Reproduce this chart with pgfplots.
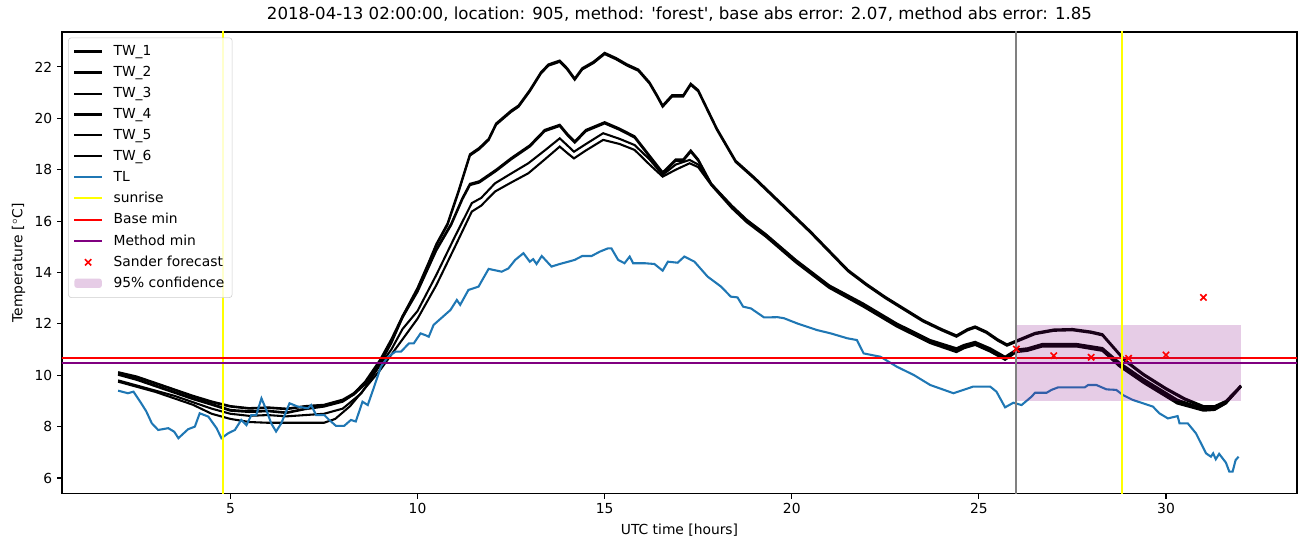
\documentclass[border=0pt]{standalone}
\usepackage{pgfplots}
\pgfplotsset{compat=1.18}
\usepackage{fontspec}
\setmainfont{DejaVu Sans}
\definecolor{tlblue}{HTML}{1F77B4}
\definecolor{mplpurple}{HTML}{800080}
\definecolor{mplgray}{HTML}{808080}
\definecolor{mplyellow}{HTML}{FFFF00}
\definecolor{confpatch}{RGB}{230,204,230}
\begin{document}
\begin{tikzpicture}
\begin{axis}[
  name=ax,
  scale only axis,
  width=889.2bp, height=332.6bp,
  xmin=0.5, xmax=33.5, ymin=5.38, ymax=23.36,
  xtick={5,10,15,20,25,30}, ytick={6,8,10,12,14,16,18,20,22},
  tick align=outside, xtick pos=bottom, ytick pos=left,
  major tick length=3.5pt,
  tick style={line width=0.8pt, black},
  axis line style={line width=0.8pt},
  /pgf/number format/assume math mode=true,
  ticklabel style={font=\fontsize{10}{12}\selectfont},
  label style={font=\fontsize{10}{12}\selectfont},
  title style={font=\fontsize{12}{14}\selectfont, yshift=-2pt},
  title={2018-04-13 02:00:00, location: 905, method: \textquotesingle forest\textquotesingle, base abs error: 2.07, method abs error: 1.85},
  xlabel={UTC time [hours]},
  ylabel={Temperature [$^\circ$C]},
  legend style={at={(0.005,0.988)}, anchor=north west, font=\fontsize{10}{12}\selectfont,
    draw=black!20, rounded corners=2pt, fill=white, fill opacity=0.8, text opacity=1,
    row sep=2.3pt, inner sep=3.5pt},
  legend cell align=left,
  legend image code/.code={\draw[mark repeat=2,mark phase=2,#1] plot coordinates {(0cm,0cm) (0.35cm,0cm) (0.7cm,0cm)}; \path (0.9cm,0cm);},
]
% TW_1
\addplot[black, line width=1.5pt] coordinates {
(2.0,10.12) (2.5,9.95) (3.0,9.7) (3.5,9.45) (4.0,9.2) (4.5,8.98) (5.0,8.8) (5.5,8.72) (6.0,8.75) (6.5,8.7) (7.0,8.8) (7.5,8.85) (8.0,9.05) (8.3,9.3) (8.6,9.7) (9.0,10.5) (9.3,11.3) (9.6,12.3) (10.0,13.4) (10.3,14.4) (10.5,15.1) (10.8,15.9) (11.1,17.2) (11.4,18.6) (11.65,18.85) (11.9,19.2) (12.1,19.8) (12.5,20.3) (12.7,20.5) (13.0,21.1) (13.3,21.8) (13.5,22.1) (13.8,22.25) (14.0,21.95) (14.2,21.55) (14.4,21.95) (14.7,22.2) (15.0,22.55) (15.3,22.35) (15.6,22.1) (15.9,21.9) (16.2,21.4) (16.4,20.9) (16.55,20.5) (16.8,20.9) (17.1,20.9) (17.3,21.35) (17.5,21.1) (17.8,20.2) (18.0,19.6) (18.5,18.35) (19.0,17.7) (19.5,17.0) (20.0,16.3) (20.5,15.6) (21.0,14.85) (21.5,14.1) (22.0,13.55) (22.5,13.05) (23.0,12.6) (23.5,12.15) (24.0,11.8) (24.4,11.55) (24.7,11.8) (24.9,11.9) (25.2,11.7) (25.5,11.4) (25.75,11.2) (26.0,11.35) (26.5,11.65) (27.0,11.78) (27.5,11.8) (28.0,11.7) (28.3,11.6) (28.6,11.1) (28.9,10.6) (29.4,10.05) (30.0,9.5) (30.5,9.1) (31.0,8.8) (31.3,8.8) (31.6,9.0) (32.0,9.6)};
\addlegendentry{TW\_1}
% TW_2
\addplot[black, line width=1.5pt] coordinates {
(2.0,10.08) (2.5,9.92) (3.0,9.68) (3.5,9.43) (4.0,9.17) (4.5,8.95) (5.0,8.78) (5.5,8.7) (6.0,8.73) (6.5,8.68) (7.0,8.78) (7.5,8.83) (8.0,9.02) (8.3,9.25) (8.6,9.65) (9.0,10.45) (9.3,11.25) (9.6,12.25) (10.0,13.35) (10.3,14.35) (10.5,15.05) (10.8,15.85) (11.1,17.15) (11.4,18.55) (11.65,18.8) (11.9,19.15) (12.1,19.75) (12.5,20.25) (12.7,20.45) (13.0,21.05) (13.3,21.75) (13.5,22.05) (13.8,22.2) (14.0,21.9) (14.2,21.5) (14.4,21.9) (14.7,22.15) (15.0,22.5) (15.3,22.3) (15.6,22.05) (15.9,21.85) (16.2,21.35) (16.4,20.85) (16.55,20.45) (16.8,20.85) (17.1,20.85) (17.3,21.3) (17.5,21.05) (17.8,20.15) (18.0,19.55) (18.5,18.3) (19.0,17.65) (19.5,16.95) (20.0,16.25) (20.5,15.55) (21.0,14.8) (21.5,14.05) (22.0,13.5) (22.5,13.0) (23.0,12.55) (23.5,12.1) (24.0,11.75) (24.4,11.5) (24.7,11.75) (24.9,11.85) (25.2,11.65) (25.5,11.35) (25.75,11.15) (26.0,11.3) (26.5,11.6) (27.0,11.73) (27.5,11.75) (28.0,11.65) (28.3,11.55) (28.6,11.05) (28.9,10.55) (29.4,10.0) (30.0,9.45) (30.5,9.05) (31.0,8.75) (31.3,8.75) (31.6,8.95) (32.0,9.55)};
\addlegendentry{TW\_2}
% TW_3
\addplot[black, line width=1.5pt] coordinates {
(2.0,10.05) (2.5,9.85) (3.0,9.6) (3.5,9.35) (4.0,9.1) (4.5,8.88) (5.0,8.65) (5.5,8.6) (6.0,8.62) (6.5,8.55) (7.0,8.7) (7.5,8.8) (8.0,9.0) (8.3,9.3) (8.6,9.75) (9.0,10.6) (9.3,11.4) (9.6,12.3) (10.0,13.3) (10.5,14.9) (10.9,15.9) (11.2,16.9) (11.4,17.45) (11.65,17.55) (12.1,18.0) (12.5,18.45) (13.0,18.95) (13.4,19.55) (13.8,19.75) (14.0,19.4) (14.2,19.1) (14.5,19.55) (15.0,19.85) (15.4,19.6) (15.8,19.3) (16.2,18.55) (16.55,17.9) (16.9,18.4) (17.1,18.4) (17.3,18.75) (17.5,18.4) (17.85,17.45) (18.4,16.6) (18.8,16.05) (19.3,15.5) (20.1,14.5) (21.0,13.5) (21.9,12.8) (22.8,12.02) (23.7,11.37) (24.4,11.05) (24.6,11.18) (24.9,11.3) (25.3,11.05) (25.7,10.72) (26.0,11.0) (26.3,11.05) (26.7,11.22) (27.6,11.22) (28.3,11.06) (28.75,10.5) (29.4,9.85) (30.3,9.05) (31.0,8.7) (31.3,8.72) (31.6,8.95) (32.0,9.6)};
\addlegendentry{TW\_3}
% TW_4
\addplot[black, line width=1.5pt] coordinates {
(2.0,10.02) (2.5,9.82) (3.0,9.57) (3.5,9.32) (4.0,9.07) (4.5,8.85) (5.0,8.62) (5.5,8.57) (6.0,8.6) (6.5,8.53) (7.0,8.68) (7.5,8.78) (8.0,8.97) (8.3,9.26) (8.6,9.7) (9.0,10.55) (9.3,11.35) (9.6,12.25) (10.0,13.25) (10.5,14.85) (10.9,15.85) (11.2,16.85) (11.4,17.4) (11.65,17.5) (12.1,17.95) (12.5,18.4) (13.0,18.9) (13.4,19.5) (13.8,19.7) (14.0,19.35) (14.2,19.05) (14.5,19.5) (15.0,19.8) (15.4,19.55) (15.8,19.25) (16.2,18.5) (16.55,17.85) (16.9,18.35) (17.1,18.35) (17.3,18.7) (17.5,18.35) (17.85,17.42) (18.4,16.57) (18.8,16.02) (19.3,15.47) (20.1,14.47) (21.0,13.47) (21.9,12.76) (22.8,11.98) (23.7,11.33) (24.4,11.0) (24.6,11.14) (24.9,11.26) (25.3,11.0) (25.7,10.68) (26.0,10.96) (26.3,11.02) (26.7,11.2) (27.6,11.2) (28.3,11.03) (28.75,10.45) (29.4,9.8) (30.3,9.0) (31.0,8.66) (31.3,8.68) (31.6,8.92) (32.0,9.57)};
\addlegendentry{TW\_4}
% TW_5
\addplot[black, line width=1.5pt] coordinates {
(2.0,9.8) (2.5,9.6) (3.0,9.4) (3.5,9.2) (4.0,8.95) (4.5,8.7) (5.0,8.5) (5.5,8.42) (6.0,8.45) (6.5,8.4) (7.0,8.45) (7.5,8.5) (8.0,8.7) (8.5,9.3) (9.0,10.4) (9.3,11.0) (9.6,11.8) (10.0,12.5) (10.5,13.9) (11.0,15.4) (11.45,16.7) (11.7,16.9) (12.07,17.47) (12.5,17.85) (12.96,18.25) (13.4,18.75) (13.8,19.22) (14.0,18.95) (14.18,18.7) (14.5,19.0) (14.96,19.42) (15.4,19.2) (15.8,18.96) (16.2,18.4) (16.55,17.8) (16.9,18.2) (17.27,18.38) (17.5,18.2) (17.85,17.45) (18.4,16.55) (18.8,16.0) (19.3,15.45) (20.1,14.45) (21.0,13.45) (21.9,12.73) (22.8,11.95) (23.7,11.3) (24.4,10.95) (24.6,11.1) (24.9,11.22) (25.3,10.98) (25.7,10.65) (26.0,10.95) (26.3,11.0) (26.7,11.18) (27.6,11.18) (28.3,11.0) (28.75,10.4) (29.4,9.75) (30.3,8.95) (31.0,8.68) (31.3,8.7) (31.6,8.92) (32.0,9.55)};
\addlegendentry{TW\_5}
% TW_6
\addplot[black, line width=1.5pt] coordinates {
(2.0,9.75) (2.5,9.55) (3.0,9.35) (3.5,9.1) (4.0,8.85) (4.5,8.5) (5.0,8.3) (5.5,8.18) (6.0,8.15) (6.5,8.15) (7.0,8.15) (7.5,8.15) (7.8,8.3) (8.2,8.8) (8.6,9.5) (9.0,10.2) (9.3,10.8) (9.6,11.4) (10.0,12.2) (10.5,13.5) (11.0,15.0) (11.45,16.37) (11.7,16.6) (12.07,17.15) (12.5,17.5) (12.96,17.86) (13.4,18.4) (13.8,18.9) (14.0,18.65) (14.18,18.44) (14.5,18.75) (14.96,19.16) (15.4,19.0) (15.8,18.77) (16.2,18.2) (16.55,17.73) (16.9,18.0) (17.27,18.25) (17.5,18.1) (17.85,17.4) (18.4,16.5) (18.8,15.95) (19.3,15.4) (20.1,14.4) (21.0,13.4) (21.9,12.68) (22.8,11.9) (23.7,11.25) (24.4,10.9) (24.6,11.05) (24.9,11.18) (25.3,10.92) (25.7,10.6) (26.0,10.9) (26.3,10.95) (26.7,11.12) (27.6,11.12) (28.3,10.95) (28.75,10.35) (29.4,9.7) (30.3,8.9) (31.0,8.62) (31.3,8.65) (31.6,8.9) (32.0,9.55)};
\addlegendentry{TW\_6}
% TL
\addplot[tlblue, line width=1.5pt] coordinates {
(2.0,9.4) (2.26,9.3) (2.41,9.36) (2.59,8.97) (2.75,8.6) (2.9,8.13) (3.07,7.87) (3.34,7.94) (3.5,7.8) (3.61,7.55) (3.87,7.9) (4.05,8.0) (4.18,8.52) (4.41,8.39) (4.63,7.94) (4.76,7.55) (4.94,7.74) (5.12,7.87) (5.29,8.26) (5.43,8.06) (5.56,8.45) (5.69,8.45) (5.83,9.1) (5.96,8.65) (6.09,8.13) (6.22,7.81) (6.36,8.13) (6.58,8.91) (6.8,8.78) (7.07,8.71) (7.16,8.84) (7.29,8.45) (7.51,8.45) (7.64,8.26) (7.82,8.03) (8.04,8.03) (8.22,8.26) (8.35,8.2) (8.53,8.97) (8.67,8.84) (8.84,9.55) (9.02,10.33) (9.2,10.7) (9.41,10.92) (9.56,10.92) (9.77,11.24) (9.9,11.24) (10.08,11.63) (10.21,11.56) (10.3,11.5) (10.43,11.96) (10.88,12.54) (11.05,12.93) (11.14,12.74) (11.36,13.32) (11.63,13.45) (11.9,14.14) (12.25,14.03) (12.43,14.16) (12.61,14.49) (12.83,14.75) (13.0,14.42) (13.09,14.52) (13.18,14.33) (13.32,14.64) (13.58,14.23) (13.8,14.33) (14.03,14.42) (14.2,14.49) (14.4,14.64) (14.65,14.64) (14.87,14.81) (15.09,14.94) (15.18,14.94) (15.36,14.49) (15.53,14.36) (15.67,14.62) (15.76,14.36) (16.07,14.36) (16.33,14.33) (16.55,14.07) (16.69,14.42) (16.95,14.38) (17.13,14.62) (17.4,14.42) (17.75,13.84) (18.11,13.45) (18.37,13.06) (18.55,13.03) (18.7,12.67) (18.91,12.6) (19.26,12.25) (19.62,12.26) (19.79,12.22) (20.14,12.02) (20.67,11.76) (21.04,11.63) (21.48,11.44) (21.74,11.37) (21.92,10.85) (22.37,10.72) (22.81,10.33) (23.26,10.01) (23.7,9.62) (24.32,9.3) (24.59,9.43) (24.85,9.56) (25.3,9.56) (25.47,9.36) (25.7,8.75) (25.92,8.93) (26.14,8.84) (26.41,9.17) (26.5,9.32) (26.81,9.32) (26.94,9.43) (27.12,9.53) (27.83,9.53) (27.92,9.62) (28.14,9.62) (28.41,9.45) (28.67,9.43) (28.85,9.23) (29.11,9.04) (29.38,8.91) (29.65,8.78) (29.82,8.52) (30.05,8.32) (30.31,8.41) (30.36,8.13) (30.58,8.13) (30.8,7.74) (31.07,6.96) (31.2,6.83) (31.26,6.96) (31.33,6.73) (31.42,6.94) (31.6,6.6) (31.69,6.25) (31.78,6.25) (31.86,6.7) (31.94,6.83)};
\addlegendentry{TL}
% sunrise
\addplot[mplyellow, line width=1.5pt] coordinates {(4.81,0) (4.81,30)};
\addlegendentry{sunrise}
% base min
\addplot[red, line width=1.5pt] coordinates {(0,10.68) (40,10.68)};
\addlegendentry{Base min}
% method min
\addplot[mplpurple, line width=1.5pt] coordinates {(0,10.49) (40,10.49)};
\addlegendentry{Method min}
% Sander forecast
\addplot[only marks, mark=x, mark size=3.2pt, red, mark options={line width=1.2pt}] coordinates {
(26,11.02) (27,10.76) (28,10.7) (29,10.66) (30,10.79) (31,13.03)};
\addlegendentry{Sander forecast}
% confidence
\addplot[draw=none, fill=mplpurple, fill opacity=0.2,
  legend image code/.code={\fill[confpatch, fill opacity=1] (0cm,-0.11cm) rectangle (0.7cm,0.13cm); \path (0.9cm,0cm);}] coordinates {
(26,9.0) (32,9.0) (32,11.95) (26,11.95) (26,9.0)};
\addlegendentry{95\% confidence}
% second sunrise and forecast time
\addplot[mplyellow, line width=1.5pt, forget plot] coordinates {(28.83,0) (28.83,30)};
\addplot[mplgray, line width=1.5pt, forget plot] coordinates {(26,0) (26,30)};
\end{axis}
\pgfresetboundingbox
\path[use as bounding box] ([xshift=-44.64bp,yshift=-38.16bp]ax.south west) rectangle ([xshift=10.08bp,yshift=23.04bp]ax.north east);
\end{tikzpicture}
\end{document}
